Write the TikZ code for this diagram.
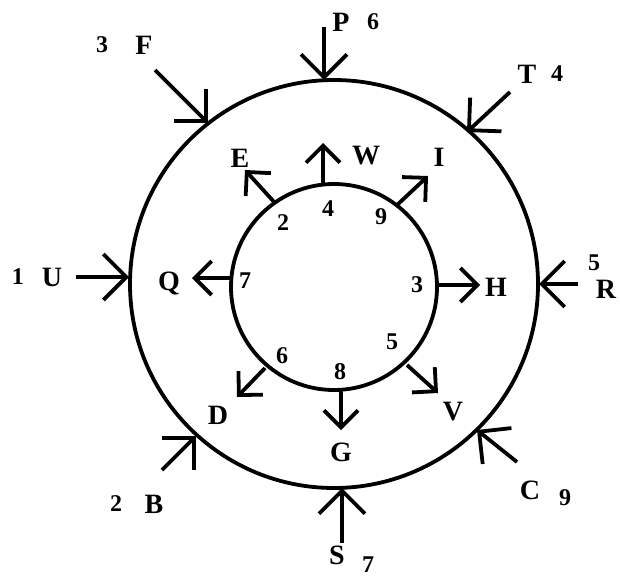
\documentclass[tikz,border=0pt]{standalone}
\usepackage{fontspec}
\setmainfont{Liberation Serif}
\usetikzlibrary{arrows.meta}
\begin{document}
\begin{tikzpicture}[x=1pt,y=-1pt,
  ring/.style={draw, circle, line width=3.8pt, inner sep=0pt, outer sep=0pt},
  inarrow/.style={line width=3.8pt, -{Straight Barb[length=23pt,width=46pt]}},
  outarrow/.style={line width=3.8pt, -{Straight Barb[length=17pt,width=34pt]}},
  letter/.style={inner sep=0pt, font=\bfseries\fontsize{28}{28}\selectfont},
  num/.style={inner sep=0pt, font=\bfseries\fontsize{24}{24}\selectfont}]
\useasboundingbox (0,0) rectangle (620,578);
\fill[white] (0,0) rectangle (620,578);
% circles
\node[ring, minimum size=408pt] (outer) at (334,284) {};
\node[ring, minimum size=206pt] (inner) at (334,287) {};
% outer arrows (pointing in)
\coordinate (Pt) at (324,27);  \coordinate (Ph) at (324,80);
\coordinate (Ft) at (155,70);  \coordinate (Fh) at (208,123);
\coordinate (Tt) at (510,92);  \coordinate (Th) at (467,132);
\coordinate (Ut) at (76,277);  \coordinate (Uh) at (129,277);
\coordinate (Rt) at (578,284); \coordinate (Rh) at (539,284);
\coordinate (Bt) at (162,470); \coordinate (Bh) at (196,436);
\coordinate (St) at (342,543); \coordinate (Sh) at (342,488);
\coordinate (Ct) at (517,462); \coordinate (Ch) at (477,430);
\draw[inarrow] (Pt) -- (Ph);
\draw[inarrow] (Ft) -- (Fh);
\draw[inarrow] (Tt) -- (Th);
\draw[inarrow] (Ut) -- (Uh);
\draw[inarrow] (Rt) -- (Rh);
\draw[inarrow] (Bt) -- (Bh);
\draw[inarrow] (St) -- (Sh);
\draw[inarrow] (Ct) -- (Ch);
% inner arrows (pointing out)
\coordinate (Wt) at (323,186); \coordinate (Wh) at (323,143);
\coordinate (Et) at (275,203); \coordinate (Eh) at (245,170);
\coordinate (It) at (396,206); \coordinate (Ih) at (428,176);
\coordinate (Qt) at (231,278); \coordinate (Qh) at (192,278);
\coordinate (Ht) at (438,285); \coordinate (Hh) at (480,285);
\coordinate (Dt) at (265,368); \coordinate (Dh) at (237,397);
\coordinate (Gt) at (341,389); \coordinate (Gh) at (341,430);
\coordinate (Vt) at (407,365); \coordinate (Vh) at (438,393);
\draw[outarrow] (Wt) -- (Wh);
\draw[outarrow] (Et) -- (Eh);
\draw[outarrow] (It) -- (Ih);
\draw[outarrow] (Qt) -- (Qh);
\draw[outarrow] (Ht) -- (Hh);
\draw[outarrow] (Dt) -- (Dh);
\draw[outarrow] (Gt) -- (Gh);
\draw[outarrow] (Vt) -- (Vh);
% outer letters and numbers
\node[letter] (lP) at (341,22) {P};  \node[num] (nP) at (373,22) {6};
\node[letter] (lF) at (144,45) {F};  \node[num] (nF) at (102,45) {3};
\node[letter] (lT) at (527,74) {T};  \node[num] (nT) at (557,74) {4};
\node[letter] (lU) at (52,277) {U};  \node[num] (nU) at (18,277) {1};
\node[letter] (lR) at (606,289) {R}; \node[num] (nR) at (594,263) {5};
\node[letter] (lB) at (154,504) {B}; \node[num] (nB) at (116,504) {2};
\node[letter] (lS) at (337,555) {S}; \node[num] (nS) at (368,565) {7};
\node[letter] (lC) at (530,490) {C}; \node[num] (nC) at (565,498) {9};
% inner letters
\node[letter] (lW) at (366,156) {W};
\node[letter] (lE) at (240,158) {E};
\node[letter] (lI) at (439,157) {I};
\node[letter] (lQ) at (169,283) {Q};
\node[letter] (lH) at (496,287) {H};
\node[letter] (lD) at (218,415) {D};
\node[letter] (lG) at (341,452) {G};
\node[letter] (lV) at (453,412) {V};
% inner numbers
\node[num] (iW) at (328,209) {4};
\node[num] (iE) at (283,223) {2};
\node[num] (iI) at (381,217) {9};
\node[num] (iQ) at (245,281) {7};
\node[num] (iH) at (417,285) {3};
\node[num] (iD) at (282,356) {6};
\node[num] (iG) at (340,372) {8};
\node[num] (iV) at (392,342) {5};
\end{tikzpicture}
\end{document}
